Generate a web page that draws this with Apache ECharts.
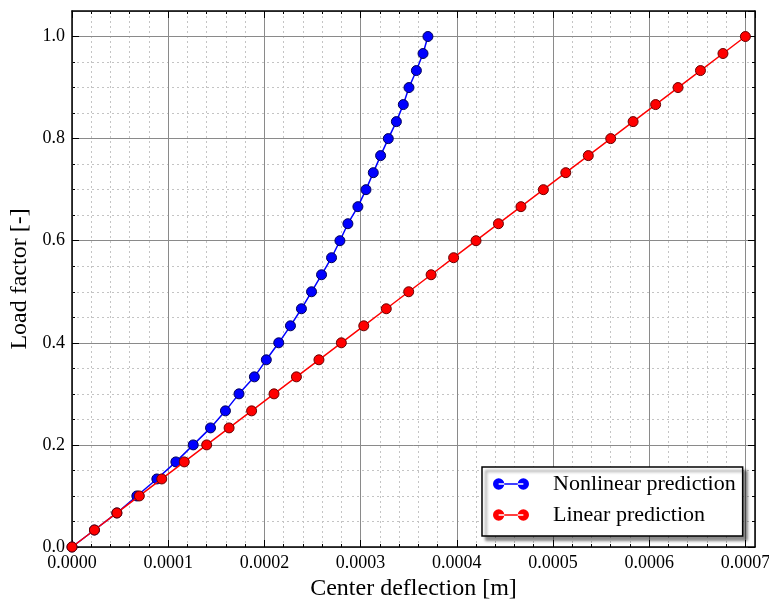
<!DOCTYPE html>
<html>
<head>
<meta charset="utf-8">
<script src="https://cdn.jsdelivr.net/npm/echarts@6/dist/echarts.min.js"></script>
<style>
html,body{margin:0;padding:0;background:#fff;}
#chart{width:769px;height:601px;}
</style>
</head>
<body>
<div id="chart"></div>
<script>
// Load factor levels (shared by both series)
const loadFactor = [0, 0.0333, 0.0667, 0.1, 0.1333, 0.1667, 0.2, 0.2333, 0.2667, 0.3, 0.3333,
  0.3667, 0.4, 0.4333, 0.4667, 0.5, 0.5333, 0.5667, 0.6, 0.6333, 0.6667,
  0.7, 0.7333, 0.7667, 0.8, 0.8333, 0.8667, 0.9, 0.9333, 0.9667, 1.0];
// Center deflection [m], nonlinear prediction
const nonlinearDefl = [0, 0.0000233, 0.0000466, 0.0000674, 0.0000882, 0.000108, 0.000126, 0.000144, 0.0001595, 0.0001736, 0.0001896,
  0.000202, 0.0002149, 0.0002271, 0.0002385, 0.000249, 0.0002594, 0.0002698, 0.0002785, 0.0002868, 0.0002972,
  0.0003056, 0.0003132, 0.0003208, 0.0003288, 0.0003372, 0.0003444, 0.0003503, 0.000358, 0.0003649, 0.00037];
// Center deflection [m], linear prediction
const linearDefl = [0, 0.0000233, 0.0000467, 0.00007, 0.0000933, 0.0001167, 0.00014, 0.0001633, 0.0001867, 0.00021, 0.0002333,
  0.0002567, 0.00028, 0.0003033, 0.0003267, 0.00035, 0.0003733, 0.0003967, 0.00042, 0.0004433, 0.0004667,
  0.00049, 0.0005133, 0.0005367, 0.00056, 0.0005833, 0.0006067, 0.00063, 0.0006533, 0.0006767, 0.0007];
const seriesNames = ['Nonlinear prediction', 'Linear prediction'];
const xTitle = 'Center deflection [m]';
const yTitle = 'Load factor [-]';

const FONT = 'Liberation Serif';
const X_MAX = 0.00071, Y_MAX = 1.05;
const legendIcon = 'path://M0.5,6A5.5,5.5 0 1,0 11.5,6A5.5,5.5 0 1,0 0.5,6Z M24.5,6A5.5,5.5 0 1,0 35.5,6A5.5,5.5 0 1,0 24.5,6Z M6,5.25L30,5.25L30,6.75L6,6.75Z';

function minorAxis(type, pos, interval, withGrid) {
  return {
    type: 'value', position: pos, offset: 0, min: 0, max: type === 'x' ? X_MAX : Y_MAX, interval: interval,
    z: 0,
    axisLine: {show: false, onZero: false},
    axisLabel: {show: false},
    axisTick: {show: true, inside: true, length: 3, lineStyle: {color: '#000', width: 1}},
    splitLine: {show: withGrid, lineStyle: {color: '#c4c4c4', width: 1, type: [2, 3]}}
  };
}
function majorAxis(type, pos, interval, main) {
  const isX = type === 'x';
  return {
    type: 'value', position: pos, offset: 0, min: 0, max: isX ? X_MAX : Y_MAX, interval: interval,
    z: 1,
    name: main ? (isX ? xTitle : yTitle) : '',
    nameLocation: 'middle',
    nameGap: isX ? 27 : 34,
    nameTextStyle: {fontFamily: FONT, fontSize: 24, color: '#000'},
    axisLine: {show: true, onZero: false, lineStyle: {color: '#000', width: 1.5}},
    axisTick: {show: true, inside: true, length: 7, lineStyle: {color: '#000', width: 1}},
    axisLabel: {
      show: main, showMaxLabel: false, margin: 7,
      fontFamily: FONT, fontSize: 18, color: '#000',
      formatter: v => isX ? v.toFixed(4) : v.toFixed(1)
    },
    splitLine: {show: main, lineStyle: {color: '#8a8a8a', width: 1}}
  };
}

const chart = echarts.init(document.getElementById('chart'), null, {renderer: 'canvas'});
chart.setOption({
  animation: false,
  backgroundColor: '#fff',
  grid: {left: 72, top: 11, right: 14, bottom: 54, containLabel: false, outerBoundsMode: 'none'},
  xAxis: [
    majorAxis('x', 'bottom', 0.0001, true),
    majorAxis('x', 'top', 0.0001, false),
    minorAxis('x', 'bottom', 0.00002, true),
    minorAxis('x', 'top', 0.00002, false)
  ],
  yAxis: [
    majorAxis('y', 'left', 0.2, true),
    majorAxis('y', 'right', 0.2, false),
    minorAxis('y', 'left', 0.05, true),
    minorAxis('y', 'right', 0.05, false)
  ],
  legend: {
    orient: 'vertical', left: 482, top: 467,
    backgroundColor: '#fff', borderColor: '#000', borderWidth: 1.5,
    shadowColor: 'rgba(0,0,0,0.45)', shadowOffsetX: 4, shadowOffsetY: 4, shadowBlur: 3,
    padding: [6, 7, 10, 11], itemGap: 9,
    itemWidth: 36, itemHeight: 12,
    itemStyle: {borderWidth: 0},
    textStyle: {fontFamily: FONT, fontSize: 22, lineHeight: 20, color: '#000', padding: [0, 0, 0, 19]},
    data: [{name: seriesNames[0], icon: legendIcon}, {name: seriesNames[1], icon: legendIcon}]
  },
  series: [
    {
      name: seriesNames[0], type: 'line', xAxisIndex: 0, yAxisIndex: 0,
      data: nonlinearDefl.map((x, i) => [x, loadFactor[i]]),
      symbol: 'circle', symbolSize: 10, z: 2,
      lineStyle: {color: '#0000ff', width: 1.5},
      itemStyle: {color: '#0000ff', borderColor: '#00005a', borderWidth: 1}
    },
    {
      name: seriesNames[1], type: 'line', xAxisIndex: 0, yAxisIndex: 0,
      data: linearDefl.map((x, i) => [x, loadFactor[i]]),
      symbol: 'circle', symbolSize: 10, z: 3,
      lineStyle: {color: '#ff0000', width: 1.5},
      itemStyle: {color: '#ff0000', borderColor: '#6a0000', borderWidth: 1}
    }
  ]
});
</script>
</body>
</html>
